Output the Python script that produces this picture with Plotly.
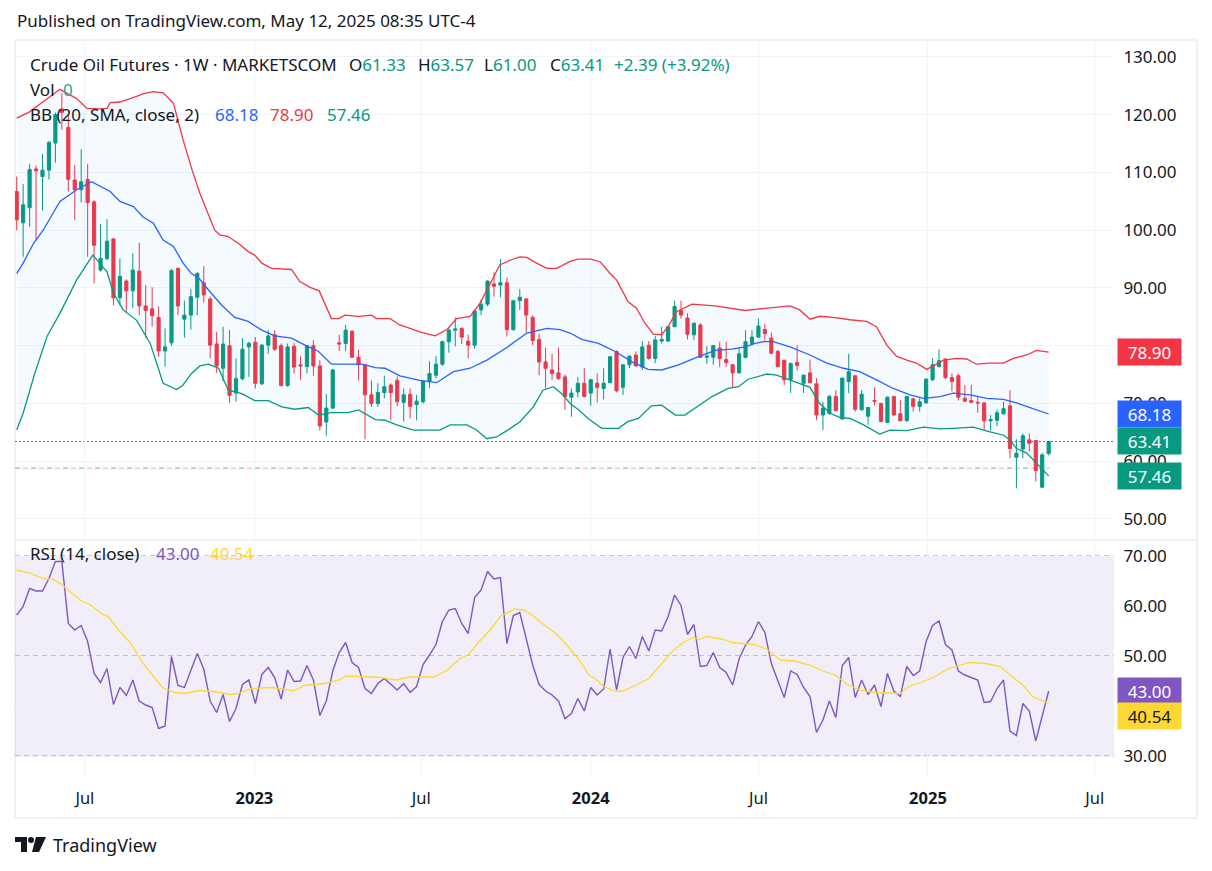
import numpy as np
import pandas as pd
import plotly.graph_objects as go

W, H = 1212, 871
FONT = "'Noto Sans', 'Open Sans', sans-serif"
TEXT = "#131722"
GREEN = "#089981"
RED = "#F23645"
BLUE = "#2962FF"
PURPLE = "#7E57C2"
YELLOW = "#FDD835"
GRID = "#F0F3FA"

# ---------------- data (weekly candles) ----------------
start_date = "2022-04-18"
n_weeks = 161

open_ = [
    106.7, 101.3, 103.9, 110.6, 109.3, 110.4, 115.1, 121.0, 117.8, 108.7,
    107.0, 108.8, 104.9, 93.1, 95.1, 98.5, 88.3, 91.2, 89.5, 92.9,
    86.9, 86.4, 84.9, 79.1, 80.5, 93.4, 84.6, 85.3, 88.4, 90.9,
    88.1, 80.3, 76.1, 80.0, 71.8, 74.3, 79.8, 80.6, 73.4, 80.1,
    81.9, 80.0, 73.1, 79.9, 76.7, 76.4, 80.0, 76.5, 66.8, 69.2,
    80.5, 80.4, 82.5, 78.0, 76.7, 71.5, 70.0, 71.9, 73.2, 74.0,
    70.2, 71.6, 69.8, 70.3, 73.8, 74.9, 76.8, 80.7, 82.7, 83.0,
    80.8, 80.1, 86.2, 87.2, 90.7, 90.5, 90.9, 82.8, 87.8, 88.1,
    84.9, 81.1, 77.2, 75.8, 75.3, 74.6, 71.1, 72.0, 73.5, 71.8,
    73.5, 72.6, 73.6, 79.0, 72.8, 76.7, 78.4, 76.3, 80.1, 77.8,
    80.8, 80.8, 83.3, 86.1, 84.8, 81.9, 83.6, 78.0, 78.0, 79.6,
    77.6, 76.7, 75.3, 78.0, 80.4, 81.5, 82.8, 81.3, 79.0, 77.5,
    74.2, 77.1, 73.5, 75.3, 73.4, 68.0, 68.3, 71.2, 67.3, 73.8,
    74.8, 68.9, 67.8, 70.5, 70.0, 66.7, 71.2, 68.2, 67.0, 70.8,
    69.5, 70.1, 74.1, 76.4, 77.7, 74.5, 74.8, 70.9, 70.5, 70.2,
    70.1, 67.0, 67.1, 68.2, 69.6, 60.7, 62.1, 63.7, 63.6, 55.5,
    61.33]
high = [
    109.3, 108.0, 111.5, 111.2, 113.2, 115.5, 120.4, 123.7, 120.0, 111.3,
    114.0, 111.5, 105.2, 101.1, 101.9, 98.6, 95.1, 91.5, 96.0, 97.8,
    90.5, 90.1, 86.8, 83.0, 93.3, 93.5, 87.8, 89.8, 92.8, 93.8,
    88.5, 82.4, 83.3, 82.7, 77.8, 81.3, 80.7, 81.5, 80.3, 82.7,
    82.7, 80.4, 80.4, 80.5, 78.2, 80.1, 81.0, 77.5, 71.6, 76.0,
    81.9, 83.6, 82.7, 79.3, 76.9, 74.0, 73.5, 74.8, 73.5, 74.7,
    72.6, 72.6, 71.5, 73.8, 77.3, 78.2, 80.9, 83.2, 84.9, 83.2,
    81.9, 86.2, 88.0, 91.3, 92.7, 95.0, 91.8, 87.8, 89.8, 88.2,
    85.3, 82.1, 79.7, 78.6, 79.7, 75.0, 72.6, 74.6, 76.1, 74.2,
    75.2, 76.1, 78.2, 79.2, 76.8, 78.3, 79.0, 80.8, 80.8, 81.7,
    83.3, 83.4, 87.8, 87.8, 85.6, 84.0, 83.9, 79.9, 80.1, 80.7,
    80.7, 76.8, 79.6, 82.7, 82.7, 84.7, 83.8, 82.3, 79.3, 77.5,
    77.1, 80.1, 75.0, 77.6, 74.4, 70.3, 71.5, 72.3, 74.5, 78.6,
    74.9, 72.3, 69.4, 72.8, 70.1, 71.2, 71.3, 70.6, 71.3, 70.9,
    70.9, 74.4, 77.8, 79.4, 77.8, 75.2, 75.2, 73.2, 73.2, 71.1,
    70.2, 68.0, 69.0, 70.3, 72.3, 63.8, 64.8, 64.8, 63.7, 61.4,
    63.57]
low = [
    100.0, 95.4, 100.6, 98.3, 103.4, 108.8, 111.7, 117.4, 106.7, 101.8,
    104.8, 95.4, 90.8, 92.8, 94.8, 87.0, 87.0, 85.6, 86.5, 85.3,
    81.3, 83.3, 78.1, 76.4, 80.0, 85.3, 81.4, 82.8, 85.3, 87.5,
    77.8, 75.3, 73.8, 70.1, 70.3, 74.0, 74.6, 72.6, 73.2, 78.6,
    79.1, 73.0, 72.9, 75.2, 74.1, 75.2, 74.8, 65.3, 64.4, 69.0,
    79.1, 79.1, 77.9, 74.0, 63.8, 69.4, 69.4, 70.9, 67.1, 69.5,
    66.9, 67.4, 67.1, 70.0, 72.7, 74.3, 76.5, 78.8, 79.9, 80.3,
    77.8, 79.5, 85.3, 86.8, 88.5, 88.4, 81.6, 82.6, 86.2, 82.3,
    80.1, 74.9, 72.6, 74.1, 74.1, 68.9, 67.7, 71.1, 71.1, 69.6,
    70.2, 70.7, 73.5, 71.9, 71.5, 76.1, 76.4, 75.8, 77.6, 77.0,
    80.4, 80.7, 83.2, 84.7, 81.1, 81.0, 77.9, 76.9, 76.7, 76.3,
    76.3, 72.8, 75.2, 77.8, 80.1, 81.4, 80.9, 78.6, 76.3, 73.2,
    71.8, 75.7, 71.8, 73.5, 67.1, 65.4, 68.0, 68.6, 67.2, 71.8,
    68.6, 68.8, 66.3, 69.7, 66.7, 66.6, 67.8, 66.9, 66.9, 68.6,
    68.6, 70.0, 73.9, 76.2, 74.2, 72.1, 70.5, 70.3, 70.1, 68.4,
    65.3, 65.3, 66.1, 68.1, 60.5, 55.3, 60.5, 61.7, 56.5, 55.4,
    61.00]
close = [
    101.8, 104.4, 110.5, 110.3, 110.4, 115.2, 120.0, 120.4, 108.8, 107.0,
    108.4, 104.8, 97.4, 95.1, 98.1, 88.3, 92.0, 89.5, 93.1, 86.9,
    86.1, 85.2, 79.1, 79.8, 93.0, 86.9, 85.3, 88.5, 92.5, 88.8,
    80.1, 76.5, 80.3, 71.4, 74.3, 79.4, 80.4, 73.5, 80.1, 81.7,
    79.4, 73.1, 79.8, 76.3, 76.5, 80.0, 76.5, 66.1, 69.2, 75.8,
    80.3, 82.7, 78.0, 76.7, 71.5, 70.0, 71.9, 72.9, 71.9, 70.3,
    71.5, 69.5, 70.4, 73.8, 75.2, 76.8, 80.7, 82.7, 82.9, 81.5,
    80.1, 86.0, 87.2, 91.2, 90.3, 90.9, 82.8, 87.8, 88.4, 85.3,
    80.9, 77.2, 76.1, 75.2, 74.3, 71.2, 71.8, 73.5, 71.2, 74.1,
    72.8, 73.5, 78.1, 72.2, 76.7, 78.2, 76.5, 79.8, 77.8, 81.0,
    81.1, 83.3, 86.8, 85.3, 82.0, 83.9, 78.0, 78.2, 80.0, 77.8,
    77.1, 75.3, 78.6, 80.7, 81.5, 83.4, 82.1, 78.7, 76.4, 74.1,
    76.9, 76.6, 74.9, 73.6, 68.0, 69.2, 71.2, 68.8, 74.4, 75.5,
    69.0, 71.6, 69.3, 70.4, 66.9, 71.1, 68.0, 67.0, 71.2, 69.5,
    70.3, 74.2, 76.7, 77.4, 74.5, 73.8, 71.1, 70.4, 70.2, 70.1,
    67.0, 67.2, 68.4, 69.1, 62.2, 61.4, 64.4, 63.1, 58.4, 61.1,
    63.41]

# Bollinger Bands (20, SMA, close, 2): (week index, value)
bb_upper_idx = [0, 2, 4.4, 6.7, 9.3, 10.9, 12.9, 14, 14.5, 16, 17.6, 19.6, 21.1, 22.7, 24.3, 25.8, 27.2, 28.4,
                30.7, 31.5, 32.8, 34.4, 35.9, 36.9, 38, 39.5, 42.6, 43.9, 45.5, 46.9, 48.8, 49.9, 50.9, 53, 55,
                55.8, 57.9, 59.4, 61, 62.5, 64.9, 66.7, 68.2, 70.3, 71.8, 73.4, 74.9, 76.5, 78, 79.1, 80.6, 82.2,
                83.7, 85.8, 87, 89, 90.5, 92, 93, 94.8, 96.1, 97.4, 98.7, 100, 101, 102.3, 104.7, 108.3, 110.9,
                112.9, 114.5, 116.8, 119.9, 121.4, 123, 124.5, 126.6, 129.2, 131.8, 133.3, 134.9, 136.4, 138,
                139.5, 141.1, 142.1, 143.7, 145.7, 147.3, 148.8, 150.9, 153, 154.5, 156.6, 158.1, 160]
bb_upper = [119.4, 120.5, 122.5, 124.4, 122.8, 121.1, 121.0, 121.1, 122.1, 122.2, 122.8, 123.6, 124.0, 123.8, 122.0,
            115.6, 110.4, 106.4, 100.0, 99.2, 98.9, 97.7, 96.3, 95.7, 94.3, 93.4, 93.2, 91.1, 90.1, 89.5, 84.7,
            84.7, 85.3, 85.1, 85.3, 84.7, 84.7, 83.6, 83.0, 82.4, 81.7, 82.8, 84.7, 85.1, 87.3, 90.8, 94.0, 94.8,
            95.4, 95.3, 94.3, 93.4, 93.4, 94.6, 95.0, 95.0, 94.5, 92.5, 91.4, 87.6, 86.5, 83.9, 82.0, 81.9, 83.3,
            85.9, 87.2, 86.9, 86.5, 86.1, 86.3, 86.6, 86.9, 86.2, 84.6, 85.1, 84.9, 84.5, 84.2, 83.3, 80.1, 78.2,
            77.5, 77.0, 75.9, 76.5, 77.5, 77.8, 77.7, 76.8, 77.0, 77.0, 77.8, 78.4, 79.2, 78.90]
bb_mid_idx = [0, 1, 2.6, 4.1, 6.7, 9.3, 11.6, 12.9, 14.5, 16, 18.1, 19.6, 21.2, 22.7, 24.3, 25.8, 27.1, 28.4, 29.7,
              31.8, 33.8, 35.9, 38, 40, 42.6, 44.7, 46.8, 48.8, 50.9, 53.5, 55.6, 57.1, 59.4, 62.5, 65.1, 67.7,
              70.3, 72.9, 76, 79.1, 82.2, 84.2, 85.8, 87.6, 90.2, 92.8, 95.4, 97.9, 100, 102.6, 105.7, 108.3,
              110.9, 112.9, 114.5, 115.8, 117.3, 119.9, 123, 125.6, 128.2, 130.7, 133.3, 135.9, 138.5, 140.6,
              143.2, 145.2, 147.8, 150.4, 153, 155, 157.1, 160]
bb_mid = [92.5, 94.3, 97.7, 100.0, 105.0, 107.0, 108.4, 107.6, 106.7, 105.0, 104.1, 102.3, 101.2, 98.3, 97.2, 94.3,
          92.5, 91.5, 89.7, 87.0, 84.9, 84.2, 82.7, 81.7, 81.3, 80.1, 79.0, 76.8, 76.8, 76.8, 76.2, 76.1, 74.8,
          74.0, 73.6, 75.5, 76.1, 77.5, 79.7, 82.2, 83.0, 82.8, 82.2, 81.1, 80.4, 79.0, 77.2, 75.9, 75.8, 76.7,
          78.1, 79.2, 79.4, 79.8, 80.4, 80.7, 80.7, 79.8, 78.4, 77.0, 76.1, 75.5, 74.1, 72.6, 71.5, 70.9, 71.2,
          71.8, 71.5, 70.9, 70.7, 70.1, 69.3, 68.18]
bb_lower_idx = [0, 1, 2.8, 4.7, 6.7, 9.3, 11.8, 12.9, 14, 15, 16.5, 18.6, 20.7, 22.7, 24.8, 25.8, 27.1, 28.4, 29.7,
                31.3, 32.8, 34.9, 36.9, 39, 41.1, 43.1, 45.2, 46.8, 48.8, 51.4, 53, 55.6, 57.1, 58.9, 61.5, 65.6,
                67.2, 69.8, 71.3, 72.9, 74.4, 76, 78, 80.1, 81.6, 83.2, 84.5, 85.8, 87.1, 88.6, 90.7, 93.3, 94.8,
                96.4, 98.4, 100, 102.1, 103.6, 105.7, 107.8, 110.3, 111.9, 113.4, 114.5, 116.3, 117.8, 120.4,
                123, 124.5, 126.1, 127.6, 129.2, 131.3, 133.8, 135.4, 138, 140.6, 143.2, 145.2, 148.3, 150.9,
                153, 154, 155, 156.6, 158.1, 160]
bb_lower = [65.4, 68.3, 75.2, 81.6, 85.6, 91.4, 95.7, 94.3, 92.8, 89.1, 86.2, 84.4, 80.4, 73.5, 72.4, 73.2, 75.2,
            76.5, 76.8, 76.1, 72.3, 71.7, 70.5, 70.5, 69.4, 69.0, 69.3, 68.0, 68.4, 68.4, 68.9, 67.2, 67.1, 66.3,
            65.4, 65.4, 66.3, 66.3, 65.4, 63.9, 64.2, 65.3, 66.8, 69.4, 72.3, 72.9, 71.7, 70.0, 68.9, 67.4, 65.7,
            65.7, 66.9, 67.4, 69.6, 69.7, 68.0, 68.0, 69.6, 71.2, 72.6, 72.9, 74.2, 74.5, 75.1, 74.9, 73.8, 72.8,
            70.0, 68.3, 67.6, 67.4, 66.3, 64.7, 65.4, 65.3, 65.9, 65.6, 65.7, 65.9, 65.1, 64.5, 63.7, 62.2, 61.4,
            59.6, 57.46]

# RSI (14, close), one value per week
rsi = [
    58.2, 59.9, 63.5, 63.0, 63.0, 65.5, 68.9, 68.9, 56.5, 55.2,
    56.1, 52.9, 46.5, 44.7, 47.5, 40.3, 43.7, 42.1, 45.2, 41.0,
    40.2, 39.7, 35.5, 36.0, 49.9, 44.1, 43.7, 46.9, 50.5, 47.4,
    41.0, 38.7, 42.3, 36.9, 39.5, 44.3, 45.2, 40.5, 46.3, 47.7,
    45.7, 41.4, 47.2, 44.9, 45.0, 48.1, 45.2, 38.1, 41.0, 47.0,
    50.7, 52.7, 48.7, 47.7, 43.5, 42.5, 44.5, 45.5, 44.3, 43.2,
    44.5, 42.7, 43.9, 48.3, 50.2, 52.3, 56.9, 59.2, 59.5, 56.5,
    54.5, 61.7, 63.2, 66.9, 65.4, 65.7, 52.5, 58.1, 58.7, 53.2,
    48.2, 44.3, 43.0, 42.2,
    41.0, 37.5, 38.5, 41.5, 39.0, 43.7, 42.2, 43.4, 51.4, 43.2,
    49.7, 51.9, 49.5, 53.9, 51.0, 55.2, 55.0, 57.9, 62.2, 60.1,
    54.3, 56.3, 47.9, 48.1, 50.7, 47.7, 46.7, 44.2, 49.4, 52.2,
    53.9, 56.9, 54.7, 48.5, 45.0, 41.7, 47.0, 46.3, 43.7, 41.9,
    34.7, 37.2, 41.0, 37.7, 48.1, 49.7, 41.7, 45.2, 42.3, 44.2,
    39.9, 46.5, 43.0, 41.9, 47.9, 46.1, 47.0, 52.9, 56.1, 57.0,
    52.3, 51.2, 47.0, 46.2, 45.7, 45.2, 40.7, 40.9, 43.5, 45.2,
    35.0, 34.1, 40.5, 39.0, 33.0, 38.2, 43.0]
# RSI-based MA (yellow): (week index, value)
rsi_ma_idx = [0, 1.7, 4.4, 5.7, 7.1, 9.8, 11.5, 13.1, 14.2, 15.8, 17.7, 19.6, 21.2, 22.6, 24.5, 26.1, 28.3, 30.5,
              33.2, 34.3, 36.4, 39.7, 42.9, 44.6, 47.8, 50, 51.1, 53.3, 56.5, 58.7, 60.9, 64.7, 66.8, 68.7, 70.1,
              71.7, 73.4, 75, 77.2, 78.6, 79.9, 81.8, 83.5, 85.3, 87.2, 88.8, 89.8, 91, 92.9, 93.9, 96.1, 98,
              99.8, 101.7, 103.6, 104.9, 105.8, 107.1, 109.6, 110.9, 114.3, 116.3, 118.4, 120.6, 122.9, 125,
              126.9, 128.8, 130.7, 133.2, 137, 138.3, 140.2, 142.4, 144.3, 146.5, 147.7, 150.3, 152.5, 154.7,
              156, 157.5, 160]
rsi_ma = [67.2, 66.7, 65.4, 65.3, 64.2, 61.2, 60.2, 58.5, 57.9, 55.2, 52.5, 48.5, 45.9, 43.7, 42.7, 42.5, 43.1,
          42.9, 42.3, 42.5, 43.5, 43.7, 43.0, 44.1, 44.5, 45.2, 46.0, 45.9, 45.7, 45.2, 45.8, 45.8, 47.2, 49.5,
          50.3, 52.9, 55.2, 57.9, 59.4, 59.2, 58.2, 56.2, 54.6, 52.2, 49.2, 46.1, 45.4, 43.9, 42.9, 43.0, 44.2,
          45.5, 48.2, 51.0, 52.9, 53.7, 53.3, 53.9, 53.3, 52.7, 52.3, 51.4, 49.2, 49.0, 48.2, 47.0, 46.2, 44.3,
          43.2, 42.7, 42.5, 43.9, 44.7, 45.9, 47.4, 48.2, 48.7, 48.5, 47.9, 45.5, 44.2, 41.9, 40.54]

price_ticks = [50, 60, 70, 80, 90, 100, 110, 120, 130]
price_hidden = [80]          # label fully covered by the value box in the reference
rsi_ticks = [30, 40, 50, 60, 70]
rsi_hidden = [40]
time_tick_dates = ["2022-07-01", "2023-01-01", "2023-07-01", "2024-01-01", "2024-07-01", "2025-01-01", "2025-07-01"]
time_tick_text = ["Jul", "<b>2023</b>", "Jul", "<b>2024</b>", "Jul", "<b>2025</b>", "Jul"]
last_price = 63.41
prev_line_price = 58.8

# ---------------- helpers ----------------
start = pd.Timestamp(start_date)
dates = pd.date_range(start, periods=n_weeks, freq="7D")


def idx_dates(idx):
    return [start + pd.Timedelta(days=7 * float(i)) for i in idx]


def px(x):
    return x / W


def py(y):
    return 1 - y / H


fig = go.Figure()

fig.add_trace(go.Candlestick(
    x=dates, open=open_, high=high, low=low, close=close,
    increasing=dict(line=dict(color=GREEN, width=1), fillcolor=GREEN),
    decreasing=dict(line=dict(color=RED, width=1), fillcolor=RED),
    xaxis="x", yaxis="y", hoverinfo="skip", name="Crude Oil"))

fig.add_trace(go.Scatter(x=idx_dates(bb_upper_idx), y=bb_upper, mode="lines",
                         line=dict(color=RED, width=1.3), xaxis="x", yaxis="y", hoverinfo="skip"))
fig.add_trace(go.Scatter(x=idx_dates(bb_lower_idx), y=bb_lower, mode="lines",
                         line=dict(color=GREEN, width=1.3), fill="tonexty",
                         fillcolor="rgba(33,150,243,0.05)", xaxis="x", yaxis="y", hoverinfo="skip"))
fig.add_trace(go.Scatter(x=idx_dates(bb_mid_idx), y=bb_mid, mode="lines",
                         line=dict(color=BLUE, width=1.3), xaxis="x", yaxis="y", hoverinfo="skip"))

fig.add_trace(go.Scatter(x=dates, y=rsi, mode="lines", line=dict(color=PURPLE, width=1.4),
                         xaxis="x2", yaxis="y2", hoverinfo="skip"))
fig.add_trace(go.Scatter(x=idx_dates(rsi_ma_idx), y=rsi_ma, mode="lines", line=dict(color=YELLOW, width=1.3),
                         xaxis="x2", yaxis="y2", hoverinfo="skip"))

x_range = [start + pd.Timedelta(days=-1.85), start + pd.Timedelta(days=1190.9)]
common_x = dict(domain=[px(15), px(1114)], range=x_range, type="date", tickvals=time_tick_dates,
                ticktext=time_tick_text, showgrid=True, gridcolor=GRID, gridwidth=1, zeroline=False,
                showline=False, fixedrange=True)
AX_FONT = dict(family=FONT, size=17, color=TEXT)

fig.update_layout(
    width=W, height=H, margin=dict(l=0, r=0, t=0, b=0),
    paper_bgcolor="white", plot_bgcolor="white", showlegend=False, hovermode=False,
    font=dict(family=FONT, color=TEXT),
    xaxis=dict(**common_x, anchor="y", showticklabels=False, rangeslider=dict(visible=False)),
    xaxis2=dict(**common_x, anchor="y2", showticklabels=True, ticks="outside", ticklen=7,
                tickcolor="rgba(0,0,0,0)", tickfont=dict(family=FONT, size=16.5, color=TEXT)),
    yaxis=dict(domain=[py(540), py(40)], range=[46.36, 132.94], side="right", anchor="x",
               tickvals=price_ticks,
               ticktext=["" if v in price_hidden else f"{v:.2f}" for v in price_ticks],
               showgrid=True, gridcolor=GRID, zeroline=False, ticks="outside", ticklen=5,
               tickcolor="rgba(0,0,0,0)", tickfont=AX_FONT, fixedrange=True),
    yaxis2=dict(domain=[py(776), py(540)], range=[26.0, 73.2], side="right", anchor="x2",
                tickvals=rsi_ticks,
                ticktext=["" if v in rsi_hidden else f"{v:.2f}" for v in rsi_ticks],
                showgrid=True, gridcolor=GRID, zeroline=False, ticks="outside", ticklen=5,
                tickcolor="rgba(0,0,0,0)", tickfont=AX_FONT, fixedrange=True),
)

shapes = [
    dict(type="rect", xref="paper", yref="paper", x0=px(15), x1=px(1197), y0=py(818), y1=py(40),
         line=dict(color="#E0E3EB", width=1), fillcolor="rgba(0,0,0,0)", layer="below"),
    dict(type="line", xref="paper", yref="paper", x0=px(15), x1=px(1197), y0=py(540), y1=py(540),
         line=dict(color="#E0E3EB", width=1), layer="below"),
    dict(type="rect", xref="paper", yref="y2", x0=px(15), x1=px(1114), y0=30, y1=70,
         fillcolor="rgba(126,87,194,0.1)", line=dict(width=0), layer="below"),
]
for lvl in (70, 50, 30):
    shapes.append(dict(type="line", xref="paper", yref="y2", x0=px(15), x1=px(1114), y0=lvl, y1=lvl,
                       line=dict(color="#8C8F99", width=1, dash="5px,4px"), layer="between"))
shapes.append(dict(type="line", xref="paper", yref="y", x0=px(15), x1=px(1114), y0=last_price, y1=last_price,
                   line=dict(color=GREEN, width=1, dash="2px,2px"), layer="between"))
shapes.append(dict(type="line", xref="paper", yref="y", x0=px(15), x1=px(1050), y0=prev_line_price,
                   y1=prev_line_price, line=dict(color="#F5A3A8", width=1, dash="5px,3px"), layer="between"))
shapes.append(dict(type="line", xref="paper", yref="y", x0=px(15), x1=px(1050), y0=prev_line_price,
                   y1=prev_line_price, line=dict(color="#7FCFC5", width=1, dash="5px,11px"), layer="between"))


def P(x, y):
    return f"{px(x)},{py(y)}"


# TradingView logo (simple shapes)
shapes.append(dict(type="path", xref="paper", yref="paper",
                   path=f"M {P(15,837)} L {P(27,837)} L {P(27,852)} L {P(21,852)} L {P(21,842)} L {P(15,842)} Z",
                   fillcolor="#131722", line=dict(width=0)))
shapes.append(dict(type="circle", xref="paper", yref="paper", x0=px(28), x1=px(34), y0=py(843), y1=py(837),
                   fillcolor="#131722", line=dict(width=0)))
shapes.append(dict(type="path", xref="paper", yref="paper",
                   path=f"M {P(36,837)} L {P(46,837)} L {P(39,852)} L {P(32,852)} Z",
                   fillcolor="#131722", line=dict(width=0)))
fig.update_layout(shapes=shapes)

ann = []


def txt(x, y, text, color=TEXT, size=17, anchor="left"):
    ann.append(dict(x=px(x), y=py(y), xref="paper", yref="paper", text=text,
                    showarrow=False, xanchor=anchor, yanchor="middle",
                    font=dict(family=FONT, size=size, color=color)))


txt(15, 20, "Published on TradingView.com, May 12, 2025 08:35 UTC-4")
txt(27.5, 64, "Crude Oil Futures · 1W · MARKETSCOM")
txt(347, 64, f"O<span style='color:{GREEN}'>61.33</span>")
txt(416, 64, f"H<span style='color:{GREEN}'>63.57</span>")
txt(482, 64, f"L<span style='color:{GREEN}'>61.00</span>")
txt(548, 64, f"C<span style='color:{GREEN}'>63.41</span>")
txt(612, 64, "+2.39 (+3.92%)", color=GREEN)
txt(27.5, 89, "Vol")
txt(61, 89, "0", color="#26A69A")
txt(27.5, 115, "BB (20, SMA, close, 2)")
txt(213, 115, "68.18", color=BLUE)
txt(268, 115, "78.90", color=RED)
txt(325, 115, "57.46", color=GREEN)
txt(27.5, 553, "RSI (14, close)")
txt(153.5, 553, "43.00", color=PURPLE)
txt(208, 553, "40.54", color=YELLOW)
txt(51, 845, "TradingView", size=18)


def box(text, yc, bg, fg="white"):
    ann.append(dict(x=px(1117), y=py(yc), xref="paper", yref="paper", xanchor="left", yanchor="middle",
                    text=text, showarrow=False, bgcolor=bg, width=59, height=22, borderpad=2, align="center",
                    font=dict(family=FONT, size=17, color=fg)))


box("78.90", 352.5, RED)
box("68.18", 414, BLUE)
box("63.41", 440.7, GREEN)
box("57.46", 476.3, GREEN)
box("43.00", 690.5, PURPLE)
box("40.54", 716, YELLOW, fg=TEXT)

fig.update_layout(annotations=ann)
fig.write_html("out.html", config={"displayModeBar": False},
               post_script="document.body.style.margin='0px';document.body.style.overflow='hidden';")
